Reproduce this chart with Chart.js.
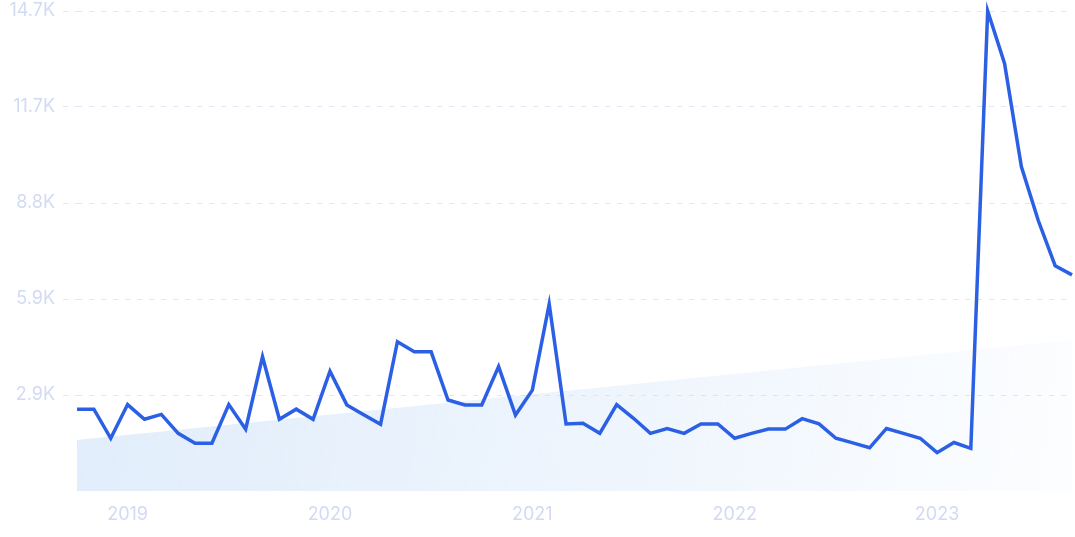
<!DOCTYPE html>
<html>
<head>
<meta charset="utf-8">
<script src="https://cdn.jsdelivr.net/npm/chart.js@4/dist/chart.umd.min.js"></script>
<style>
    html, body { margin: 0; padding: 0; background: #ffffff; }
    #wrap { width: 1075px; height: 537px; position: relative; }
</style>
</head>
<body>
<div id="wrap"><canvas id="chart"></canvas></div>
<script>
// monthly categories, Oct 2018 .. Sep 2023
let months = [
    "2018-10","2018-11","2018-12",
    "2019-01","2019-02","2019-03","2019-04","2019-05","2019-06","2019-07","2019-08","2019-09","2019-10","2019-11","2019-12",
    "2020-01","2020-02","2020-03","2020-04","2020-05","2020-06","2020-07","2020-08","2020-09","2020-10","2020-11","2020-12",
    "2021-01","2021-02","2021-03","2021-04","2021-05","2021-06","2021-07","2021-08","2021-09","2021-10","2021-11","2021-12",
    "2022-01","2022-02","2022-03","2022-04","2022-05","2022-06","2022-07","2022-08","2022-09","2022-10","2022-11","2022-12",
    "2023-01","2023-02","2023-03","2023-04","2023-05","2023-06","2023-07","2023-08","2023-09"
];

// series values
let values = [
    2500, 2500, 1610,
    2640, 2190, 2340, 1760, 1460, 1460, 2640, 1890, 4100, 2190, 2500, 2190,
    3660, 2630, 2330, 2040, 4560, 4250, 4250, 2780, 2630, 2630, 3800, 2320,
    3080, 5710, 2050, 2070, 1760, 2640, 2220, 1760, 1910, 1760, 2050, 2050,
    1610, 1760, 1890, 1890, 2210, 2050, 1610, 1470, 1320, 1910, 1760, 1610,
    1170, 1480, 1300, 14660, 13060, 9900, 8260, 6880, 6600
];

// trend band: start and end values
let trendStart = 1560;
let trendEnd = 4610;

// y axis ticks
let yMax = 14660;
let yStep = 2932;

// x tick labels shown at each January
let yearLabels = ["2019", "2020", "2021", "2022", "2023"];

let labelColor = "#d2daf4";
let gridColor = "#dfe6f8";
let lineColor = "#2c60e4";

function trendFill(context){
    let chart = context.chart;
    let area = chart.chartArea;
    if(!area){
        return "rgba(200,222,248,0.5)";
    }
    let g = chart.ctx.createLinearGradient(area.left, area.bottom - 80, area.right, area.bottom + 40);
    g.addColorStop(0, "rgba(198,221,247,0.52)");
    g.addColorStop(0.5, "rgba(200,222,248,0.32)");
    g.addColorStop(1, "rgba(205,226,250,0.06)");
    return g;
}

let context = document.getElementById("chart").getContext("2d");

let chart = new Chart(context,
{
    type: "line",
    data:
    {
        labels: months,
        datasets:
        [
            {
                data: values,
                borderColor: lineColor,
                borderWidth: 3.5,
                pointRadius: 0,
                tension: 0,
                fill: false,
                clip: false,
                order: 1
            },
            {
                data: [ { x: months[0], y: trendStart }, { x: months[months.length - 1], y: trendEnd } ],
                borderWidth: 0,
                borderColor: "rgba(0,0,0,0)",
                backgroundColor: trendFill,
                pointRadius: 0,
                fill: "origin",
                order: 2
            }
        ]
    },
    options:
    {
        responsive: true,
        maintainAspectRatio: false,
        animation: false,
        layout: { padding: { top: 0, right: 3, bottom: 0, left: 0 } },
        plugins:
        {
            legend: { display: false },
            tooltip: { enabled: false }
        },
        scales:
        {
            x:
            {
                offset: false,
                afterFit: function(scale){
                    scale.height = 46;
                    scale.paddingLeft = 0;
                    scale.paddingRight = 0;
                },
                grid: { display: false, drawTicks: false },
                border: { display: false },
                ticks:
                {
                    autoSkip: false,
                    maxRotation: 0,
                    padding: 13,
                    color: labelColor,
                    font: { family: "Inter", size: 18 },
                    callback: function(val, i){
                        let m = months[i];
                        if(m.endsWith("-01")){
                            return yearLabels[parseInt(m.slice(0, 4)) - 2019];
                        }
                        return "";
                    }
                }
            },
            y:
            {
                min: 0,
                max: yMax,
                afterFit: function(scale){
                    scale.width = 77;
                    scale.paddingTop = 11;
                    scale.paddingBottom = 0;
                },
                grid:
                {
                    color: ctx => ctx.tick && ctx.tick.value === 0 ? "rgba(0,0,0,0)" : gridColor,
                    tickColor: ctx => ctx.tick && ctx.tick.value === 0 ? "rgba(0,0,0,0)" : gridColor,
                    lineWidth: 1,
                    tickLength: 14,
                    tickBorderDash: [5, 7]
                },
                border: { display: false, dash: [5, 7] },
                ticks:
                {
                    stepSize: yStep,
                    padding: 8,
                    color: labelColor,
                    font: { family: "Inter", size: 18 },
                    callback: v => v === 0 ? "" : (v / 1000).toFixed(1) + "K"
                }
            }
        }
    }
});
</script>
</body>
</html>
